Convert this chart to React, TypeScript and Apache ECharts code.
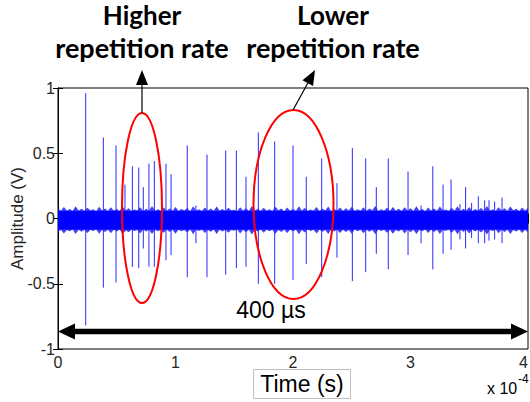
import React, { useEffect, useRef } from "react";
import * as echarts from "echarts";

// x axis in units of 1e-4 s
const xTicks = [0, 1, 2, 3, 4];
const yTicks = [-1, -0.5, 0, 0.5, 1];

// pulse spikes: time, positive peak, negative peak
const spikeTimes = [
  0.236, 0.386, 0.494, 0.57, 0.633, 0.687, 0.726, 0.774, 0.82, 0.919, 0.962,
  1.1, 1.174, 1.268, 1.427, 1.518, 1.6, 1.705, 1.844, 2.0, 2.113, 2.244, 2.374,
  2.505, 2.619, 2.709, 2.811, 2.979, 3.09, 3.19, 3.277, 3.345, 3.421, 3.469,
  3.52, 3.577, 3.631, 3.668, 3.716, 3.779,
];
const spikeTops = [
  0.96, 0.62, 0.56, 0.26, 0.4, 0.39, 0.24, 0.42, 0.44, 0.42, 0.34,
  0.56, 0.1, 0.49, 0.52, 0.52, 0.32, 0.66, 0.59, 0.56, 0.32, 0.46, 0.27,
  0.54, 0.46, 0.24, 0.46, 0.36, 0.1, 0.4, 0.26, 0.3, 0.11, 0.24,
  0.12, 0.17, 0.14, 0.14, 0.13, 0.16,
];
const spikeBottoms = [
  -0.82, -0.53, -0.49, -0.1, -0.37, -0.38, -0.23, -0.37, -0.37, -0.32, -0.28,
  -0.45, -0.19, -0.45, -0.43, -0.38, -0.37, -0.5, -0.5, -0.47, -0.35, -0.45, -0.3,
  -0.48, -0.41, -0.27, -0.39, -0.28, -0.19, -0.39, -0.27, -0.24, -0.16, -0.23,
  -0.15, -0.19, -0.19, -0.17, -0.16, -0.19,
];

// noise band: solid core and ragged envelope (sampled every NOISE_STEP)
const NOISE_STEP = 0.025;
const noiseCoreTop = 0.058;
const noiseCoreBottom = -0.084;
const noiseUpper = [
  0.078, 0.06, 0.088, 0.062, 0.072, 0.059, 0.094, 0.061, 0.075, 0.06, 0.083, 0.063, 0.07, 0.058, 0.09, 0.062, 0.076, 0.06, 0.086, 0.061,
  0.073, 0.059, 0.092, 0.062, 0.079, 0.06, 0.069, 0.063, 0.087, 0.058, 0.074, 0.061, 0.095, 0.06, 0.071, 0.062, 0.084, 0.059, 0.077, 0.061,
  0.089, 0.06, 0.072, 0.063, 0.081, 0.058, 0.093, 0.061, 0.07, 0.06, 0.085, 0.062, 0.076, 0.059, 0.091, 0.061, 0.073, 0.06, 0.082, 0.063,
  0.068, 0.058, 0.087, 0.061, 0.079, 0.06, 0.096, 0.062, 0.074, 0.059, 0.083, 0.061, 0.071, 0.06, 0.09, 0.063, 0.077, 0.058, 0.085, 0.061,
  0.072, 0.06, 0.094, 0.062, 0.08, 0.059, 0.069, 0.061, 0.088, 0.06, 0.075, 0.063, 0.092, 0.058, 0.073, 0.061, 0.084, 0.06, 0.078, 0.062,
  0.09, 0.059, 0.071, 0.061, 0.086, 0.06, 0.076, 0.063, 0.095, 0.058, 0.07, 0.061, 0.082, 0.06, 0.089, 0.062, 0.074, 0.059, 0.087, 0.061,
  0.079, 0.06, 0.093, 0.062, 0.072, 0.058, 0.085, 0.061, 0.077, 0.06, 0.091, 0.063, 0.069, 0.059, 0.083, 0.061, 0.094, 0.06, 0.075, 0.062,
  0.088, 0.058, 0.073, 0.061, 0.081, 0.06, 0.096, 0.062, 0.07, 0.059, 0.086, 0.061, 0.078, 0.06, 0.092, 0.063, 0.074, 0.058, 0.084, 0.061,
  0.08,
];
const noiseLower = [
  -0.104, -0.086, -0.115, -0.088, -0.098, -0.085, -0.119, -0.087, -0.101, -0.086, -0.111, -0.089, -0.096, -0.085, -0.117, -0.088, -0.103, -0.086, -0.113, -0.087,
  -0.099, -0.085, -0.12, -0.088, -0.106, -0.086, -0.095, -0.089, -0.114, -0.084, -0.1, -0.087, -0.118, -0.086, -0.097, -0.088, -0.11, -0.085, -0.104, -0.087,
  -0.116, -0.086, -0.098, -0.089, -0.108, -0.084, -0.121, -0.087, -0.096, -0.086, -0.112, -0.088, -0.102, -0.085, -0.119, -0.087, -0.099, -0.086, -0.109, -0.089,
  -0.094, -0.084, -0.114, -0.087, -0.105, -0.086, -0.122, -0.088, -0.1, -0.085, -0.11, -0.087, -0.097, -0.086, -0.117, -0.089, -0.103, -0.084, -0.112, -0.087,
  -0.098, -0.086, -0.12, -0.088, -0.107, -0.085, -0.095, -0.087, -0.115, -0.086, -0.101, -0.089, -0.119, -0.084, -0.099, -0.087, -0.111, -0.086, -0.104, -0.088,
  -0.117, -0.085, -0.097, -0.087, -0.113, -0.086, -0.102, -0.089, -0.121, -0.084, -0.096, -0.087, -0.109, -0.086, -0.116, -0.088, -0.1, -0.085, -0.114, -0.087,
  -0.105, -0.086, -0.119, -0.088, -0.098, -0.084, -0.112, -0.087, -0.103, -0.086, -0.118, -0.089, -0.095, -0.085, -0.11, -0.087, -0.12, -0.086, -0.101, -0.088,
  -0.115, -0.084, -0.099, -0.087, -0.108, -0.086, -0.122, -0.088, -0.096, -0.085, -0.113, -0.087, -0.104, -0.086, -0.119, -0.089, -0.1, -0.084, -0.111, -0.087,
  -0.106,
];

const SANS = "'Liberation Sans', Arial, sans-serif";
const BOLD = "Lato, 'Open Sans', sans-serif";

function txt(text: string, x: number, y: number, font: string, align = "center") {
  return {
    type: "text",
    x,
    y,
    z: 110,
    style: {
      text,
      font,
      fill: "#000",
      align,
      textAlign: align,
      verticalAlign: "middle",
      textVerticalAlign: "middle",
    },
  };
}

export default function App() {
  const ref = useRef<HTMLDivElement>(null);
  useEffect(() => {
    if (!ref.current) return;
    const chart = echarts.init(ref.current, undefined, { renderer: "svg" });
    const fmt = (v: number) => String(v);
    const xBase = {
      type: "value",
      min: xTicks[0],
      max: xTicks[xTicks.length - 1],
      interval: 1,
      splitLine: { show: false },
      axisLine: { show: true, lineStyle: { color: "#000", width: 1 } },
      axisTick: { show: true, inside: true, length: 5, lineStyle: { color: "#000" } },
    };
    const yBase = {
      type: "value",
      min: yTicks[0],
      max: yTicks[yTicks.length - 1],
      interval: 0.5,
      splitLine: { show: false },
      axisLine: { show: true, lineStyle: { color: "#000", width: 1 } },
      axisTick: { show: true, inside: true, length: 5, lineStyle: { color: "#000" } },
    };
    const option = {
      animation: false,
      backgroundColor: "#fff",
      grid: {
        left: 58,
        right: 2,
        top: 88,
        bottom: 53,
        show: true,
        borderColor: "#000",
        borderWidth: 1,
        containLabel: false,
        outerBoundsMode: "none",
      },
      xAxis: [
        {
          ...xBase,
          position: "bottom",
          axisLabel: {
            margin: 5,
            fontSize: 16,
            color: "#262626",
            fontFamily: SANS,
            formatter: fmt,
            alignMaxLabel: "right",
          },
        },
        { ...xBase, position: "top", axisLabel: { show: false } },
      ],
      yAxis: [
        {
          ...yBase,
          position: "left",
          axisLabel: { margin: 3, fontSize: 16, color: "#262626", fontFamily: SANS, formatter: fmt },
          name: "Amplitude (V)",
          nameLocation: "middle",
          nameGap: 32,
          nameMoveOverlap: false,
          nameTextStyle: { fontSize: 17, fontFamily: SANS, color: "#262626" },
        },
        { ...yBase, position: "right", axisLabel: { show: false } },
      ],
      series: [
        {
          type: "custom",
          name: "pulses",
          xAxisIndex: 0,
          yAxisIndex: 0,
          encode: { x: 0, y: [1, 2] },
          data: spikeTimes.map((t, i) => [t, spikeTops[i], spikeBottoms[i]]),
          renderItem: (_p: any, api: any) => {
            const a = api.coord([api.value(0), api.value(1)]);
            const b = api.coord([api.value(0), api.value(2)]);
            return {
              type: "line",
              shape: { x1: a[0], y1: a[1], x2: b[0], y2: b[1] },
              style: { stroke: "#2a2aff", lineWidth: 1 },
            };
          },
          z: 2,
        },
        {
          type: "custom",
          name: "noise",
          xAxisIndex: 0,
          yAxisIndex: 0,
          encode: { x: 0, y: 1 },
          data: [[0, 0]],
          renderItem: (_p: any, api: any) => {
            const up = noiseUpper.map((v, i) => api.coord([i * NOISE_STEP, v]));
            const lo = noiseLower.map((v, i) => api.coord([i * NOISE_STEP, v])).reverse();
            const last = (noiseUpper.length - 1) * NOISE_STEP;
            const c1 = api.coord([0, noiseCoreTop]);
            const c2 = api.coord([last, noiseCoreBottom]);
            return {
              type: "group",
              children: [
                {
                  type: "polygon",
                  shape: { points: up.concat(lo) },
                  style: { fill: "#1a1aff", opacity: 0.85 },
                },
                {
                  type: "rect",
                  shape: { x: c1[0], y: c1[1], width: c2[0] - c1[0], height: c2[1] - c1[1] },
                  style: { fill: "#0000ff" },
                },
              ],
            };
          },
          z: 3,
        },
      ],
      graphic: [
        { type: "ellipse", z: 100, shape: { cx: 142, cy: 208, rx: 20, ry: 95 }, style: { fill: "none", stroke: "#ff0000", lineWidth: 2 } },
        { type: "ellipse", z: 100, shape: { cx: 293.5, cy: 204.5, rx: 40, ry: 94.5 }, style: { fill: "none", stroke: "#ff0000", lineWidth: 2 } },
        { type: "line", z: 100, shape: { x1: 142, y1: 113, x2: 142, y2: 82 }, style: { stroke: "#000", lineWidth: 1.2 } },
        { type: "polygon", z: 100, shape: { points: [[142, 70], [136, 85], [148, 85]] }, style: { fill: "#000" } },
        { type: "line", z: 100, shape: { x1: 293, y1: 110, x2: 309, y2: 81 }, style: { stroke: "#000", lineWidth: 1.2 } },
        { type: "polygon", z: 100, shape: { points: [[315, 70], [313.1, 86.1], [302.5, 80.3]] }, style: { fill: "#000" } },
        { type: "line", z: 100, shape: { x1: 72, y1: 331.5, x2: 514, y2: 331.5 }, style: { stroke: "#000", lineWidth: 5.5 } },
        { type: "polygon", z: 100, shape: { points: [[58, 331.5], [75, 323.5], [75, 339.5]] }, style: { fill: "#000" } },
        { type: "polygon", z: 100, shape: { points: [[528, 331.5], [511, 323.5], [511, 339.5]] }, style: { fill: "#000" } },
        { type: "rect", z: 100, shape: { x: 253.5, y: 369.5, width: 97, height: 29 }, style: { fill: "#fff", stroke: "#bfbfbf", lineWidth: 1 } },
        txt("Time (s)", 302, 384, `23px ${SANS}`),
        txt("400 µs", 271, 310, `23px ${SANS}`),
        txt("Higher", 142, 15, `bold 26px ${BOLD}`),
        txt("repetition rate", 142, 47, `bold 27px ${BOLD}`),
        txt("Lower", 333, 15, `bold 26px ${BOLD}`),
        txt("repetition rate", 333, 47, `bold 27px ${BOLD}`),
        txt("x 10", 487, 388, `16px ${SANS}`, "left"),
        txt("-4", 518, 379, `12px ${SANS}`, "left"),
      ],
    };
    chart.setOption(option as any);
    return () => chart.dispose();
  }, []);
  return (
    <div
      ref={ref}
      style={{ width: 530, height: 402, position: "absolute", left: 0, top: 0, background: "#fff" }}
    />
  );
}
